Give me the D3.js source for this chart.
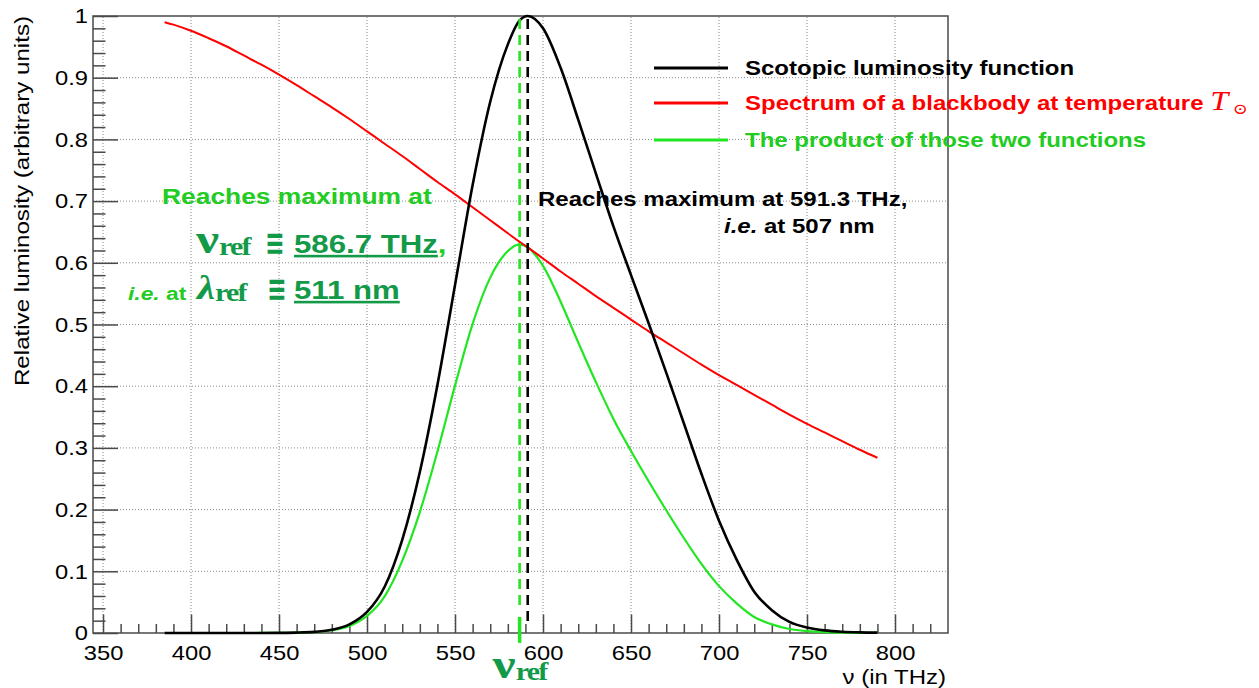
<!DOCTYPE html>
<html>
<head>
<meta charset="utf-8">
<script src="https://cdn.jsdelivr.net/npm/d3@7"></script>
<style>
  body { margin: 0; background: #fff; }
  svg { display: block; font-family: "Liberation Sans", Arial, sans-serif; }
</style>
</head>
<body>
<div id="chart"></div>
<script>
// frequencies (THz) and the three curves
const nu = [385, 390, 400, 410, 420, 430, 440, 450, 460, 470, 480, 490, 500, 510, 520, 530, 540, 550, 560, 570, 580, 586.7, 591.3,
  600, 610, 620, 630, 640, 650, 660, 670, 680, 690, 700, 710, 720, 730, 740, 750, 760, 770, 780, 790];
const scotopic = [0, 0, 0, 0, 0.00001, 0.00002, 0.00006, 0.0002, 0.0006, 0.0018, 0.0051, 0.0139, 0.0341, 0.075, 0.151, 0.261, 0.402, 0.564, 0.726, 0.861, 0.954, 0.993, 1.0,
  0.98, 0.916, 0.832, 0.745, 0.659, 0.58, 0.502, 0.422, 0.34, 0.258, 0.182, 0.119, 0.067, 0.037, 0.018, 0.0089, 0.0042, 0.002, 0.001, 0.0006];
const blackbody = [0.990, 0.986, 0.976, 0.964, 0.951, 0.936, 0.921, 0.905, 0.888, 0.870, 0.852, 0.833, 0.813, 0.793, 0.773, 0.752, 0.731, 0.711, 0.690, 0.669, 0.648, 0.634, 0.625,
  0.607, 0.586, 0.566, 0.546, 0.527, 0.508, 0.489, 0.471, 0.453, 0.435, 0.418, 0.402, 0.386, 0.370, 0.354, 0.339, 0.325, 0.311, 0.297, 0.284];
const product = [0, 0, 0, 0, 0.00001, 0.00002, 0.00005, 0.0002, 0.0005, 0.0015, 0.0044, 0.0115, 0.0277, 0.0595, 0.117, 0.196, 0.294, 0.401, 0.501, 0.576, 0.619, 0.630, 0.625,
  0.595, 0.537, 0.471, 0.407, 0.347, 0.295, 0.246, 0.199, 0.154, 0.112, 0.076, 0.048, 0.026, 0.014, 0.0065, 0.003, 0.0014, 0.0006, 0.0003, 0.0002];

const xTicks = [350, 400, 450, 500, 550, 600, 650, 700, 750, 800];
const yTicks = [0, 0.1, 0.2, 0.3, 0.4, 0.5, 0.6, 0.7, 0.8, 0.9, 1];
const yTickLabels = ["0", "0.1", "0.2", "0.3", "0.4", "0.5", "0.6", "0.7", "0.8", "0.9", "1"];
const nuRef = 586.7;
const nuPeak = 591.3;

const legendItems = ["Scotopic luminosity function", "Spectrum of a blackbody at temperature ", "The product of those two functions"];

const W = 1259, H = 688;
const SX = 1.2; // ROOT text is rendered wider than the font
const RED = "#ff0000", GREEN = "#22e622", GREEN_TXT = "#22cc22", DARK = "#139a48";
const SERIF = "'Liberation Serif', 'DejaVu Serif', serif";

const svg = d3.select("#chart").append("svg").attr("width", W).attr("height", H);

const x = d3.scaleLinear().domain([344.3, 830.1]).range([93, 948]);
const y = d3.scaleLinear().domain([0, 1]).range([633, 16]);

// grid
const grid = svg.append("g").attr("stroke", "#8a8a8a").attr("stroke-width", 1).attr("stroke-dasharray", "1,2");
grid.selectAll(".gx").data(xTicks).join("line")
  .attr("x1", (d) => x(d)).attr("x2", (d) => x(d)).attr("y1", y(0)).attr("y2", y(1));
grid.selectAll(".gy").data(yTicks.slice(1, -1)).join("line")
  .attr("x1", x.range()[0]).attr("x2", x.range()[1]).attr("y1", (d) => y(d)).attr("y2", (d) => y(d));

// axes, ticks inside the frame like ROOT
const xMinor = d3.range(350, 830, 10).filter((v) => v % 50 !== 0);
const yMinor = d3.range(0, 1.001, 0.02).filter((v) => Math.abs(v * 10 - Math.round(v * 10)) > 1e-6);

svg.append("g").attr("transform", `translate(0,${y(0)})`)
  .call(d3.axisBottom(x).tickValues(xTicks).tickSize(-18.5).tickSizeOuter(0).tickPadding(12));
svg.append("g").attr("transform", `translate(0,${y(0)})`)
  .call(d3.axisBottom(x).tickValues(xMinor).tickSize(-9).tickSizeOuter(0).tickFormat(""));
svg.append("g").attr("transform", `translate(${x.range()[0]},0)`)
  .call(d3.axisLeft(y).tickValues(yTicks).tickSize(-25).tickSizeOuter(0).tickPadding(4.4)
    .tickFormat((d, i) => yTickLabels[i]));
svg.append("g").attr("transform", `translate(${x.range()[0]},0)`)
  .call(d3.axisLeft(y).tickValues(yMinor).tickSize(-12.5).tickSizeOuter(0).tickFormat(""));

svg.selectAll(".domain").remove();
svg.selectAll(".tick line").attr("stroke", "#4a4a4a").attr("stroke-width", 1.5);
svg.selectAll(".tick text").attr("font-family", "'Liberation Sans', Arial, sans-serif")
  .attr("font-size", 21).attr("fill", "#000").attr("transform", "scale(1.13,1)");

// frame
svg.append("rect")
  .attr("x", x.range()[0]).attr("y", y(1))
  .attr("width", x.range()[1] - x.range()[0]).attr("height", y(0) - y(1))
  .attr("fill", "none").attr("stroke", "#4a4a4a").attr("stroke-width", 1.5);

// curves
const line = d3.line().x((d) => x(d[0])).y((d) => y(d[1])).curve(d3.curveMonotoneX);
const series = [
  { values: product, color: GREEN, width: 2.2 },
  { values: blackbody, color: RED, width: 2 },
  { values: scotopic, color: "#000", width: 2.6 },
];
series.forEach((s) => {
  svg.append("path")
    .datum(nu.map((v, i) => [v, s.values[i]]))
    .attr("d", line)
    .attr("fill", "none")
    .attr("stroke", s.color)
    .attr("stroke-width", s.width)
    .attr("stroke-linejoin", "round");
});

// markers of the two maxima
svg.append("line")
  .attr("x1", x(nuPeak)).attr("x2", x(nuPeak)).attr("y1", y(0.995)).attr("y2", y(0.01))
  .attr("stroke", "#000").attr("stroke-width", 2.6).attr("stroke-dasharray", "10,6");
svg.append("line")
  .attr("x1", x(nuRef)).attr("x2", x(nuRef)).attr("y1", y(0.995)).attr("y2", y(0.04))
  .attr("stroke", GREEN).attr("stroke-width", 2.6).attr("stroke-dasharray", "10,6");
svg.append("line")
  .attr("x1", x(nuRef)).attr("x2", x(nuRef)).attr("y1", y(0.026)).attr("y2", y(-0.016))
  .attr("stroke", GREEN).attr("stroke-width", 3.5);

// text helper: tspans with their own styles, stretched like the original
function rich(px, py, parts, anchor, sx) {
  const t = svg.append("text")
    .attr("transform", `translate(${px},${py}) scale(${sx || SX},1)`)
    .attr("text-anchor", anchor || "start");
  parts.forEach((p) => {
    const s = t.append("tspan").text(p.text)
      .attr("font-size", p.size || 20)
      .attr("font-weight", p.weight || "bold")
      .attr("fill", p.fill || "#000");
    if (p.family) s.attr("font-family", p.family);
    if (p.italic) s.attr("font-style", "italic");
    if (p.dy) s.attr("dy", p.dy);
    if (p.spacing) s.attr("letter-spacing", p.spacing);
    if (p.underline) s.attr("text-decoration", "underline");
  });
  return t;
}

// axis titles
rich(946, 684, [{ text: "\u03bd (in THz)", weight: "normal" }], "end");
svg.append("text")
  .attr("transform", "translate(29,16) rotate(-90) scale(1.15,1)")
  .attr("text-anchor", "end").attr("font-size", 21)
  .text("Relative luminosity (arbitrary units)");

// legend
const legendColors = ["#000", RED, GREEN];
const legendText = ["#000", RED, GREEN_TXT];
const legendY = [68, 103, 140];
legendItems.forEach((label, i) => {
  svg.append("line")
    .attr("x1", 654).attr("x2", 728).attr("y1", legendY[i]).attr("y2", legendY[i])
    .attr("stroke", legendColors[i]).attr("stroke-width", 3);
  const parts = [{ text: label, fill: legendText[i] }];
  if (i === 1) {
    parts.push({ text: "T", family: SERIF, weight: "normal", italic: true, size: 27, fill: RED });
    parts.push({ text: " \u2299", family: SERIF, weight: "normal", size: 15, fill: RED, dy: 4 });
  }
  rich(745, legendY[i] + 7, parts);
});

// annotation of the scotopic maximum
rich(538, 206, [{ text: "Reaches maximum at 591.3 THz," }]);
rich(724, 233, [{ text: "i.e.", italic: true }, { text: " at 507 nm" }]);

// annotation of the product maximum
const refSub = { text: "ref", family: SERIF, size: 25, fill: DARK, dy: 2, spacing: -1.5 };
const equiv = { text: "\u2261", family: "'DejaVu Sans', sans-serif", size: 36, fill: DARK };
rich(162, 204, [{ text: "Reaches maximum at", size: 22, fill: GREEN_TXT }]);
rich(196, 253, [{ text: "\u03bd", family: SERIF, size: 43, fill: DARK }, refSub]);
rich(265, 255, [equiv], "start", 0.65);
rich(294, 253, [
  { text: "586.7 THz", size: 26, fill: DARK, underline: true },
  { text: ",", size: 26, fill: GREEN_TXT },
]);
rich(128, 300, [
  { text: "i.e.", size: 19, italic: true, fill: GREEN_TXT },
  { text: " at", size: 19, fill: GREEN_TXT },
]);
rich(197, 299, [{ text: "\u03bb", family: SERIF, size: 34, italic: true, fill: DARK }, refSub]);
rich(267, 301, [equiv], "start", 0.65);
rich(294, 299, [{ text: "511 nm", size: 26, fill: DARK, underline: true }]);

// label under the axis
rich(x(nuRef) - 27, 678, [{ text: "\u03bd", family: SERIF, size: 43, fill: DARK }, refSub]);
</script>
</body>
</html>
